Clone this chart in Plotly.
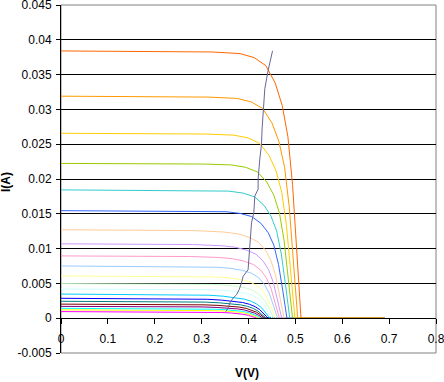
import plotly.graph_objects as go

# ---- data: I-V curves (voltage V, current A), one list pair per curve ----
v_ff00ff = [0, 0.228, 0.288, 0.318, 0.343, 0.363, 0.378, 0.39, 0.4, 0.409, 0.415, 0.418, 0.69]
i_ff00ff = [0.00095, 0.00093, 0.0009, 0.00086, 0.00082, 0.00075, 0.00067, 0.00055, 0.00041, 0.00023, 0.00007, 0, 0]
v_ffff00 = [0, 0.233, 0.293, 0.323, 0.348, 0.368, 0.383, 0.395, 0.405, 0.414, 0.42, 0.423, 0.69]
i_ffff00 = [0.0012, 0.00118, 0.00114, 0.00109, 0.00103, 0.00095, 0.00084, 0.0007, 0.00052, 0.00029, 0.00008, 0, 0]
v_00ffff = [0, 0.237, 0.297, 0.327, 0.352, 0.372, 0.387, 0.399, 0.409, 0.418, 0.424, 0.427, 0.69]
i_00ffff = [0.00142, 0.00139, 0.00135, 0.00129, 0.00122, 0.00112, 0.00099, 0.00082, 0.00061, 0.00034, 0.0001, 0, 0]
v_800080 = [0, 0.241, 0.301, 0.331, 0.356, 0.376, 0.391, 0.403, 0.413, 0.422, 0.428, 0.431, 0.69]
i_800080 = [0.0017, 0.00167, 0.00162, 0.00155, 0.00146, 0.00134, 0.00119, 0.00099, 0.00073, 0.00041, 0.00012, 0, 0]
v_800000 = [0, 0.245, 0.305, 0.335, 0.36, 0.38, 0.395, 0.407, 0.417, 0.426, 0.432, 0.435, 0.69]
i_800000 = [0.00202, 0.00198, 0.00192, 0.00184, 0.00174, 0.0016, 0.00141, 0.00117, 0.00087, 0.00048, 0.00014, 0, 0]
v_008080 = [0, 0.248, 0.308, 0.338, 0.363, 0.383, 0.398, 0.41, 0.42, 0.429, 0.435, 0.438, 0.69]
i_008080 = [0.00243, 0.00238, 0.00231, 0.00221, 0.00209, 0.00192, 0.0017, 0.00141, 0.00104, 0.00058, 0.00017, 0, 0]
v_0000ff = [0, 0.252, 0.312, 0.342, 0.367, 0.387, 0.402, 0.414, 0.424, 0.433, 0.439, 0.442, 0.69]
i_0000ff = [0.00286, 0.0028, 0.00272, 0.0026, 0.00246, 0.00226, 0.002, 0.00166, 0.00123, 0.00069, 0.0002, 0, 0]
v_00ccff = [0, 0.256, 0.316, 0.346, 0.371, 0.391, 0.406, 0.418, 0.428, 0.437, 0.443, 0.446, 0.69]
i_00ccff = [0.00347, 0.0034, 0.0033, 0.00316, 0.00298, 0.00274, 0.00243, 0.00201, 0.00149, 0.00083, 0.00024, 0, 0]
v_ccffff = [0, 0.26, 0.32, 0.35, 0.375, 0.395, 0.41, 0.422, 0.432, 0.441, 0.447, 0.45, 0.69]
i_ccffff = [0.00419, 0.00415, 0.00409, 0.004, 0.00383, 0.0036, 0.00323, 0.00272, 0.00201, 0.00105, 0.00029, 0, 0]
v_ccffcc = [0, 0.264, 0.324, 0.354, 0.379, 0.399, 0.414, 0.426, 0.436, 0.445, 0.451, 0.454, 0.69]
i_ccffcc = [0.00497, 0.00492, 0.00485, 0.00475, 0.00455, 0.00427, 0.00383, 0.00323, 0.00239, 0.00124, 0.00035, 0, 0]
v_ffff99 = [0, 0.268, 0.328, 0.358, 0.383, 0.403, 0.418, 0.43, 0.44, 0.449, 0.455, 0.458, 0.69]
i_ffff99 = [0.00607, 0.00601, 0.00592, 0.0058, 0.00555, 0.00522, 0.00467, 0.00395, 0.00291, 0.00152, 0.00042, 0, 0]
v_99ccff = [0, 0.272, 0.332, 0.362, 0.387, 0.407, 0.422, 0.434, 0.444, 0.453, 0.459, 0.462, 0.69]
i_99ccff = [0.00751, 0.00743, 0.00732, 0.00717, 0.00687, 0.00646, 0.00578, 0.00488, 0.0036, 0.00188, 0.00053, 0, 0]
v_ff99cc = [0, 0.276, 0.336, 0.366, 0.391, 0.411, 0.426, 0.438, 0.448, 0.457, 0.463, 0.466, 0.69]
i_ff99cc = [0.00895, 0.00886, 0.00873, 0.00855, 0.00819, 0.0077, 0.00689, 0.00582, 0.0043, 0.00224, 0.00063, 0, 0]
v_cc99ff = [0, 0.281, 0.341, 0.371, 0.396, 0.416, 0.431, 0.443, 0.453, 0.462, 0.468, 0.471, 0.69]
i_cc99ff = [0.01069, 0.01058, 0.01042, 0.01021, 0.00978, 0.00919, 0.00823, 0.00695, 0.00513, 0.00267, 0.00075, 0, 0]
v_ffcc99 = [0, 0.286, 0.346, 0.376, 0.401, 0.421, 0.436, 0.448, 0.458, 0.467, 0.473, 0.476, 0.69]
i_ffcc99 = [0.01271, 0.01258, 0.01239, 0.01214, 0.01163, 0.01093, 0.00979, 0.00826, 0.0061, 0.00318, 0.00089, 0, 0]
v_3366ff = [0, 0.292, 0.352, 0.382, 0.407, 0.427, 0.442, 0.454, 0.464, 0.473, 0.479, 0.482, 0.69]
i_3366ff = [0.01545, 0.01539, 0.0153, 0.01506, 0.0146, 0.0136, 0.01228, 0.01051, 0.00773, 0.00402, 0.00108, 0, 0]
v_33cccc = [0, 0.298, 0.358, 0.388, 0.413, 0.433, 0.448, 0.46, 0.47, 0.479, 0.485, 0.488, 0.69]
i_33cccc = [0.01844, 0.01837, 0.01826, 0.01798, 0.01743, 0.01623, 0.01466, 0.01254, 0.00922, 0.00479, 0.00129, 0, 0]
v_99cc00 = [0, 0.304, 0.364, 0.394, 0.419, 0.439, 0.454, 0.466, 0.476, 0.485, 0.491, 0.494, 0.69]
i_99cc00 = [0.02224, 0.02215, 0.02202, 0.02168, 0.02102, 0.01957, 0.01768, 0.01512, 0.01112, 0.00578, 0.00156, 0, 0]
v_ffcc00 = [0, 0.309, 0.369, 0.399, 0.424, 0.444, 0.459, 0.471, 0.481, 0.49, 0.496, 0.499, 0.69]
i_ffcc00 = [0.02657, 0.02646, 0.0263, 0.02591, 0.02511, 0.02338, 0.02112, 0.01807, 0.01329, 0.00691, 0.00186, 0, 0]
v_ff9900 = [0, 0.315, 0.375, 0.405, 0.43, 0.45, 0.465, 0.477, 0.487, 0.496, 0.502, 0.505, 0.69]
i_ff9900 = [0.0319, 0.03177, 0.03158, 0.0311, 0.03015, 0.02807, 0.02536, 0.02169, 0.01595, 0.00829, 0.00223, 0, 0]
v_ff6600 = [0, 0.322, 0.382, 0.412, 0.437, 0.457, 0.472, 0.484, 0.494, 0.503, 0.509, 0.512, 0.69]
i_ff6600 = [0.0384, 0.03825, 0.03802, 0.03744, 0.03629, 0.03379, 0.03053, 0.02611, 0.0192, 0.00998, 0.00269, 0, 0]

# locus line drawn across the curves
v_locus = [0.3515, 0.3564, 0.36, 0.3671, 0.3744, 0.3799, 0.385, 0.3885, 0.3991, 0.4013, 0.4028,
           0.4064, 0.4113, 0.4135, 0.4205, 0.4205, 0.4241, 0.4278, 0.429, 0.4312, 0.4348, 0.4419, 0.4513]
i_locus = [0.00095, 0.00144, 0.00217, 0.00289, 0.00336, 0.00409, 0.00505, 0.00601, 0.00697, 0.0089, 0.01083,
           0.01372, 0.01516, 0.01756, 0.01853, 0.01997, 0.02286, 0.02503, 0.02719, 0.03008, 0.03297, 0.03561, 0.03841]

y_tick_vals = [-0.005, 0, 0.005, 0.01, 0.015, 0.02, 0.025, 0.03, 0.035, 0.04, 0.045]
y_tick_text = ["-0.005", "0", "0.005", "0.01", "0.015", "0.02", "0.025", "0.03", "0.035", "0.04", "0.045"]
x_tick_vals = [0, 0.1, 0.2, 0.3, 0.4, 0.5, 0.6, 0.7, 0.8]
x_tick_text = ["0", "0.1", "0.2", "0.3", "0.4", "0.5", "0.6", "0.7", "0.8"]

curves = [
    (v_ff00ff, i_ff00ff, "#FF00FF"), (v_ffff00, i_ffff00, "#FFFF00"), (v_00ffff, i_00ffff, "#00FFFF"),
    (v_800080, i_800080, "#800080"), (v_800000, i_800000, "#800000"), (v_008080, i_008080, "#008080"),
    (v_0000ff, i_0000ff, "#0000FF"), (v_00ccff, i_00ccff, "#00CCFF"), (v_ccffff, i_ccffff, "#CCFFFF"),
    (v_ccffcc, i_ccffcc, "#CCFFCC"), (v_ffff99, i_ffff99, "#FFFF99"), (v_99ccff, i_99ccff, "#99CCFF"),
    (v_ff99cc, i_ff99cc, "#FF99CC"), (v_cc99ff, i_cc99ff, "#CC99FF"), (v_ffcc99, i_ffcc99, "#FFCC99"),
    (v_3366ff, i_3366ff, "#3366FF"), (v_33cccc, i_33cccc, "#33CCCC"), (v_99cc00, i_99cc00, "#99CC00"),
    (v_ffcc00, i_ffcc00, "#FFCC00"), (v_ff9900, i_ff9900, "#FF9900"), (v_ff6600, i_ff6600, "#FF6600"),
]

FONT = "Liberation Sans, Arial, sans-serif"

fig = go.Figure()
for vv, ii, col in curves:
    fig.add_trace(go.Scatter(x=vv, y=ii, mode="lines", line=dict(color=col, width=1), showlegend=False))
fig.add_trace(go.Scatter(x=v_locus, y=i_locus, mode="lines", line=dict(color="#666699", width=1), showlegend=False))

fig.update_layout(
    width=444, height=382,
    margin=dict(l=61, r=8, t=5, b=29, pad=0),
    paper_bgcolor="white", plot_bgcolor="white",
    font=dict(family=FONT, size=12, color="black"),
    showlegend=False,
    xaxis=dict(
        range=[0, 0.8], tickvals=x_tick_vals, ticktext=x_tick_text,
        anchor="free", position=0.1, side="bottom",
        showline=True, linecolor="black", linewidth=1,
        ticks="outside", ticklen=5, tickcolor="black", tickwidth=1,
        showgrid=False, zeroline=False, automargin=False,
        ticklabelstandoff=4, ticklabeloverflow="allow",
    ),
    yaxis=dict(
        range=[-0.005, 0.045], tickvals=y_tick_vals, ticktext=y_tick_text,
        domain=[0, 1],
        showline=True, linecolor="black", linewidth=1,
        ticks="outside", ticklen=4, tickcolor="black", tickwidth=1,
        showgrid=True, gridcolor="black", gridwidth=1,
        zeroline=False, automargin=False,
        ticklabelstandoff=2, ticklabeloverflow="allow",
    ),
    shapes=[dict(type="rect", xref="paper", yref="paper", x0=0, x1=1, y0=0, y1=1,
                 line=dict(color="#808080", width=1), fillcolor="rgba(0,0,0,0)", layer="between")],
    annotations=[
        dict(text="<b>V(V)</b>", xref="paper", yref="paper", x=0.496, y=-0.0575,
             xanchor="center", yanchor="middle", showarrow=False, font=dict(size=12, family=FONT)),
        dict(text="<b>I(A)</b>", xref="paper", yref="paper", x=-0.147, y=0.491, textangle=-90,
             xanchor="center", yanchor="middle", showarrow=False, font=dict(size=12, family=FONT)),
    ],
)

fig.write_html("out.html", config={"displayModeBar": False, "staticPlot": True},
               post_script="document.body.style.margin='0';document.body.style.padding='0';")
